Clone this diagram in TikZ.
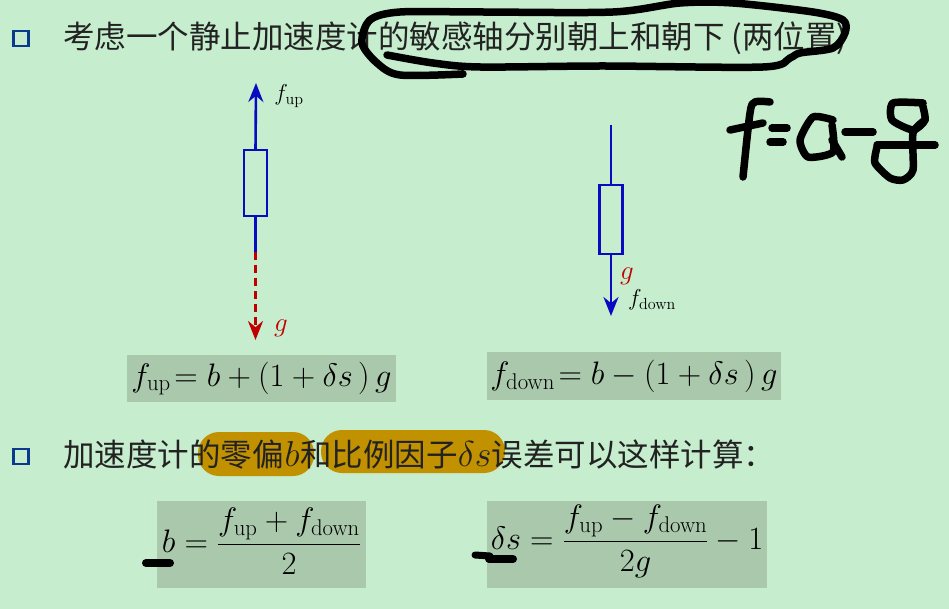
\RequirePackage{fix-cm}
\documentclass[tikz,border=0pt]{standalone}
\usepackage{amsmath}
\usepackage[no-math]{fontspec}
\usepackage{xcolor}
\setmainfont{Noto Sans CJK SC}
\usetikzlibrary{arrows.meta}
\definecolor{slidebg}{HTML}{C6EDCD}
\definecolor{eqgray}{HTML}{A9C8AC}
\definecolor{marker}{HTML}{C19100}
\definecolor{bulletblue}{HTML}{0A3A8C}
\definecolor{axisblue}{HTML}{0A0AC0}
\definecolor{gred}{HTML}{C00000}
\definecolor{inktext}{HTML}{222222}
\newcommand{\linemath}[1]{{\fontsize{36}{36}\selectfont$#1$}}

\begin{document}
\begin{tikzpicture}[
    x=1pt, y=-1pt,
    every node/.style={align=center, inner sep=0pt, outer sep=0pt},
    bullet/.style={draw=bulletblue, line width=2.6pt, minimum size=15pt},
    line/.style={anchor=west, text=inktext, font=\fontsize{31.5}{36}\selectfont},
    eqbox/.style={fill=eqgray, anchor=north west},
    eqtext/.style={font=\fontsize{32.5}{38}\selectfont},
    lab/.style={font=\fontsize{23}{27}\selectfont},
    glab/.style={text=gred, font=\fontsize{27}{30}\selectfont},
    sensor/.style={draw=axisblue, line width=2.6pt, minimum width=23pt},
    axis/.style={draw=axisblue, line width=2.6pt},
    arr/.style={-{Stealth[length=19pt, width=15pt]}},
    hilite/.style={fill=marker, rounded corners=21pt},
    ink/.style={draw=black, line width=7.5pt, line cap=round, line join=round},
]
\useasboundingbox[fill=slidebg] (0,0) rectangle (949,609);

% Marker behind second line
\fill[hilite] (198,432) rectangle (314,476);
\fill[hilite] (321,430) rectangle (505,473);

% Bullets and text lines
\node[bullet] (bulletone) at (21,38.5) {};
\node[bullet] (bullettwo) at (21,456.5) {};
\node[line] (lineone) at (63,38) {考虑一个静止加速度计的敏感轴分别朝上和朝下 (两位置)};
\node[line] (linetwo) at (63,455) {加速度计的零偏\kern1pt\linemath{b}\kern1pt 和比例因子\linemath{\delta s}误差可以这样计算：};

% Sensor pointing up
\node[sensor, minimum height=66pt] (upbox) at (255.5,183) {};
\coordinate (uptip) at (256,83);
\coordinate (upend) at (255.5,252);
\coordinate (uptail) at (255.5,340);
\draw[axis, arr] (upbox.north) -- (uptip);
\draw[axis] (upbox.south) -- (upend);
\draw[draw=gred, line width=2.6pt, dash pattern=on 8pt off 5pt, arr] (upend) -- (uptail);
\node[lab] (fuplab) at (289,96) {$f_{\mathrm{up}}$};
\node[glab] (guplab) at (281,328) {$g$};

% Sensor pointing down
\node[sensor, minimum height=69pt] (downbox) at (611,219.5) {};
\coordinate (downtop) at (611,125);
\coordinate (downtip) at (611,316);
\draw[axis] (downtop) -- (downbox.north);
\draw[axis, arr] (downbox.south) -- (downtip);
\node[glab] (gdownlab) at (627,276) {$g$};
\node[lab] (fdownlab) at (652,300) {$f_{\mathrm{down}}$};

% Formula boxes
\node[eqbox, minimum width=269pt, minimum height=47pt] (upeqbox) at (127,355) {};
\node[eqbox, minimum width=294pt, minimum height=48pt] (downeqbox) at (487,352) {};
\node[eqbox, minimum width=209pt, minimum height=87pt] (beqbox) at (157,501) {};
\node[eqbox, minimum width=280pt, minimum height=87pt] (seqbox) at (487,501) {};
\node[eqtext] (upeq) at (upeqbox) {$f_{\mathrm{up}}\!=b+(1+\delta s\,)\,g$};
\node[eqtext] (downeq) at (downeqbox) {$f_{\mathrm{down}}\!=b-(1+\delta s\,)\,g$};
\node[eqtext, yshift=3pt] (beq) at (beqbox) {$b=\dfrac{f_{\mathrm{up}}+f_{\mathrm{down}}}{2}$};
\node[eqtext, yshift=3pt] (seq) at (seqbox) {$\delta s=\dfrac{f_{\mathrm{up}}-f_{\mathrm{down}}}{2g}-1$};

% Pen strokes on top
\draw[ink] plot[smooth, tension=0.5] coordinates {(387,55) (433,63) (480,67) (603,66) (763,67) (790,58) (800,53) (833,48) (845,33) (843,20) (813,12) (733,3) (680,3) (613,12) (480,12) (400,12) (370,20) (362,43) (377,63) (400,75) (463,74)};
\draw[ink] plot[smooth, tension=0.5] coordinates {(770,102) (755,102) (750,113) (743,177)};
\draw[ink] (730,130) -- (763,123);
\draw[ink] (772,128) -- (787,128);
\draw[ink] (770,142) -- (783,142);
\draw[ink] plot[smooth, tension=0.4] coordinates {(833,120) (813,117) (800,140) (808,157) (833,152) (832,125)};
\draw[ink] (832,140) -- (842,157);
\draw[ink] (845,132) -- (873,132);
\draw[ink] plot[smooth, tension=0.4] coordinates {(923,103) (893,103) (892,120) (913,130) (925,120) (922,103)};
\draw[ink] plot[smooth, tension=0.4] coordinates {(925,120) (913,133) (913,170) (903,180) (890,178) (875,163) (877,147)};
\draw[ink] (877,145) -- (935,145);
\draw[ink, line width=8pt] (146,563) -- (170,563);
\draw[ink, line width=7pt] (475,555) -- (490,556);
\draw[ink, line width=8pt] (489,559) -- (513,559);

\end{tikzpicture}
\end{document}
